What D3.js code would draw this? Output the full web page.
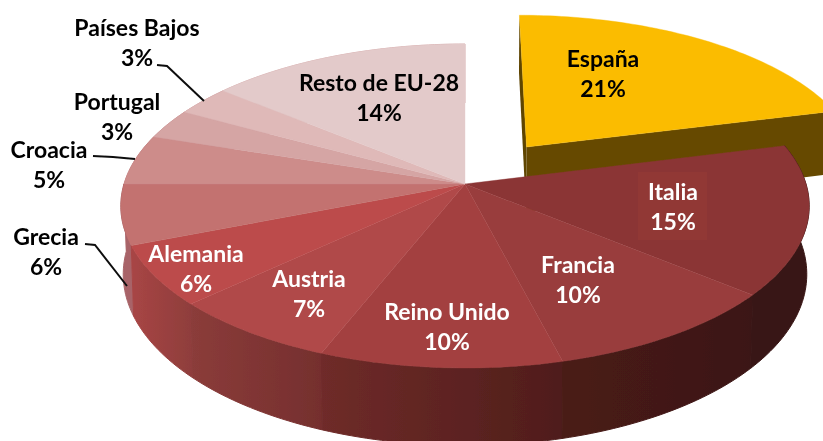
<!DOCTYPE html>
<html><head><meta charset="utf-8">
<script src="https://cdn.jsdelivr.net/npm/d3@7"></script>
<style>html,body{margin:0;padding:0;background:#fff;overflow:hidden}svg{display:block}text{font-family:Lato,Carlito,sans-serif;font-weight:700;font-size:23px;text-anchor:middle}</style>
</head><body><svg id="c" width="823" height="441"></svg>
<script>
// Data
const categories = ["España","Italia","Francia","Reino Unido","Austria","Alemania","Grecia","Croacia","Portugal","Países Bajos","Resto de EU-28"];
const shares = [21,15,10,10,7,6,6,5,3,3,14];
const topColors = ["#fbbc00","#8b3535","#993d3d","#a34040","#b04848","#bc4c4c","#c3726f","#cd8c8a","#d5a5a4","#dfb9b8","#e3caca"];
const sideStart = ["#664a00","#391614","#3b1715","#4f1d1b","#752f2e","#8f3e3c","#a86468","#c08080","#c89090","#d0a0a0","#d8b0b0"];
const sideEnd   = ["#664a00","#391614","#4a1b19","#6f2b29","#8b3c3a","#a84545","#a86468","#c08080","#c89090","#d0a0a0","#d8b0b0"];
const labelColors = ["#000","#fff","#fff","#fff","#fff","#fff","#000","#000","#000","#000","#000"];
// Layout (screen placement of labels and leaders, not data)
const labelCenters = [[603,59],[673,192],[578,265],[447,312],[309,279],[196,254],[46,237],[49,150],[117,102],[137,28],[379,83]];
const leaders = {6:[[85,244],[95,245],[127,286]],7:[[93,156],[113,157],[135,159]],9:[[157,65],[167,66],[204,101]]};

const cx=465, cy=184, A=341, B=159, P=0.1358, H=67, SHRINK=0.993, EXPLODE=0.304;
const root=d3.select("#c");
const defs=root.append("defs");
defs.append("filter").attr("id","soft").attr("filterUnits","userSpaceOnUse")
  .attr("x",0).attr("y",0).attr("width",823).attr("height",441)
  .append("feGaussianBlur").attr("stdDeviation",0.45);
const svg=root.append("g").attr("filter","url(#soft)");
const pie=d3.pie().sort(null).value(d=>d)(shares);

// perspective projection of the tilted disc
function proj(u,v,low){
  const w=1-P*v;
  if(low) return [cx+SHRINK*A*u/w, cy+(B*v+H)/w];
  return [cx+A*u/w, cy+B*v/w];
}
function offset(i){
  if(i!==0) return [0,0];
  const m=(pie[0].startAngle+pie[0].endAngle)/2;
  return [EXPLODE*Math.sin(m),-EXPLODE*Math.cos(m)];
}
function rim(a,i,low){const o=offset(i);return proj(Math.sin(a)+o[0],-Math.cos(a)+o[1],low);}
function apex(i,low){const o=offset(i);return proj(o[0],o[1],low);}
const line=d3.line();
const STEP=Math.PI/150;
function angles(p){const n=Math.max(2,Math.ceil((p.endAngle-p.startAngle)/STEP));return d3.range(n+1).map(k=>p.startAngle+(p.endAngle-p.startAngle)*k/n);}

function drawSide(p,i){
  const as=angles(p);
  const x1=rim(p.startAngle,i,false)[0], x2=rim(p.endAngle,i,false)[0];
  const g=defs.append("linearGradient").attr("id","s"+i).attr("gradientUnits","userSpaceOnUse")
    .attr("x1",x1).attr("y1",0).attr("x2",x2).attr("y2",0);
  g.append("stop").attr("offset",0).attr("stop-color",sideStart[i]);
  g.append("stop").attr("offset",1).attr("stop-color",sideEnd[i]);
  const pts=as.map(a=>rim(a,i,false)).concat(as.slice().reverse().map(a=>rim(a,i,true)));
  svg.append("path").attr("d",line(pts)+"Z").attr("fill","url(#s"+i+")").attr("stroke","url(#s"+i+")").attr("stroke-width",1);
}
function drawTop(p,i){
  const pts=[apex(i,false)].concat(angles(p).map(a=>rim(a,i,false)));
  svg.append("path").attr("d",line(pts)+"Z").attr("fill",topColors[i]).attr("stroke",topColors[i]).attr("stroke-width",0.4);
}
// exploded slice first, with its two cut faces
const p0=pie[0];
svg.append("path").attr("d",line([apex(0,false),rim(p0.startAngle,0,false),rim(p0.startAngle,0,true),apex(0,true)])+"Z").attr("fill","#5e4400");
svg.append("path").attr("d",line([apex(0,false),rim(p0.endAngle,0,false),rim(p0.endAngle,0,true),apex(0,true)])+"Z").attr("fill",sideStart[0]);
drawTop(p0,0);
// remaining slices: back-facing sides first, so Alemania's side overlaps Grecia's
[...pie.keys()].filter(i=>i>0).reverse().forEach(i=>drawSide(pie[i],i));
pie.forEach((p,i)=>{if(i>0) drawTop(p,i);});
// Italia label backing
svg.append("rect").attr("x",638).attr("y",172).attr("width",69).attr("height",68).attr("fill","#913736");
// leaders
Object.entries(leaders).forEach(([k,pts])=>{
  svg.append("path").attr("d",line(pts)).attr("fill","none").attr("stroke","#111").attr("stroke-width",2);
});
// labels
categories.forEach((c,i)=>{
  const [x,y]=labelCenters[i];
  svg.append("text").attr("x",x).attr("y",y+8).attr("fill",labelColors[i]).text(c);
  svg.append("text").attr("x",x).attr("y",y+38).attr("fill",labelColors[i]).text(shares[i]+"%");
});
</script></body></html>
